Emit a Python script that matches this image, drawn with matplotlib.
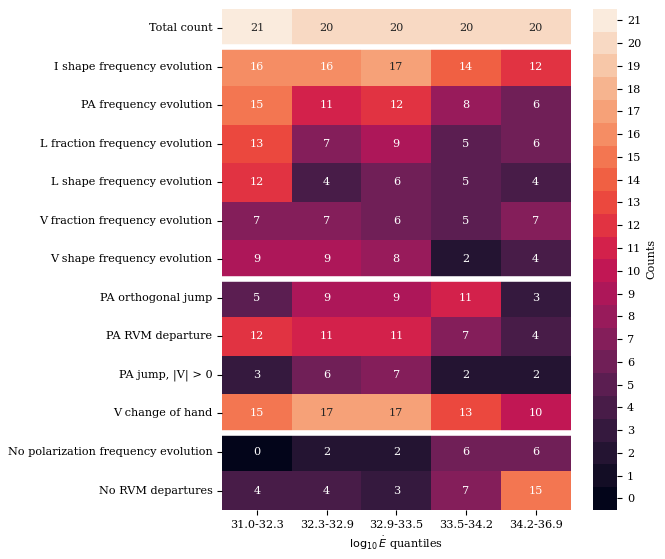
import numpy as np
import matplotlib
matplotlib.use("Agg")
import matplotlib.pyplot as plt
import seaborn as sns

plt.rcParams['font.family'] = 'DejaVu Serif'
plt.rcParams['font.size'] = 8.1

# rows of the table
row_labels = ["Total count",
              "I shape frequency evolution",
              "PA frequency evolution",
              "L fraction frequency evolution",
              "L shape frequency evolution",
              "V fraction frequency evolution",
              "V shape frequency evolution",
              "PA orthogonal jump",
              "PA RVM departure",
              "PA jump, |V| > 0",
              "V change of hand",
              "No polarization frequency evolution",
              "No RVM departures"]
col_labels = ["31.0-32.3", "32.3-32.9", "32.9-33.5", "33.5-34.2", "34.2-36.9"]

total_count = [21, 20, 20, 20, 20]
i_shape = [16, 16, 17, 14, 12]
pa_freq = [15, 11, 12, 8, 6]
l_frac = [13, 7, 9, 5, 6]
l_shape = [12, 4, 6, 5, 4]
v_frac = [7, 7, 6, 5, 7]
v_shape = [9, 9, 8, 2, 4]
pa_ortho = [5, 9, 9, 11, 3]
pa_rvm = [12, 11, 11, 7, 4]
pa_jump_v = [3, 6, 7, 2, 2]
v_hand = [15, 17, 17, 13, 10]
no_pol = [0, 2, 2, 6, 6]
no_rvm = [4, 4, 3, 7, 15]

counts = np.array([total_count, i_shape, pa_freq, l_frac, l_shape, v_frac, v_shape,
                   pa_ortho, pa_rvm, pa_jump_v, v_hand, no_pol, no_rvm])

nmax = 21
# discrete rocket colours, one per count
cmap = sns.color_palette("rocket", as_cmap=True).resampled(nmax + 1)

fig = plt.figure(figsize=(6.65, 5.59), dpi=100)
ax = fig.add_axes([0.334, 0.088, 0.524, 0.896])
cax = fig.add_axes([0.891, 0.088, 0.037, 0.896])

sns.heatmap(counts, annot=True, fmt="d", cmap=cmap, vmin=-0.5, vmax=nmax + 0.5,
            xticklabels=col_labels, yticklabels=row_labels, ax=ax, cbar_ax=cax,
            cbar_kws={"ticks": range(nmax + 1), "label": "Counts"},
            annot_kws={"fontsize": 8.1})
ax.tick_params(axis='y', rotation=0)
ax.tick_params(axis='x', rotation=0)

# white separators between row groups
for y in [1, 7, 11]:
    ax.axhline(y, color='white', lw=4)

ax.set_xlabel(r"$\log_{10}\dot{E}$ quantiles")

fig.savefig("out.png", dpi=100)
